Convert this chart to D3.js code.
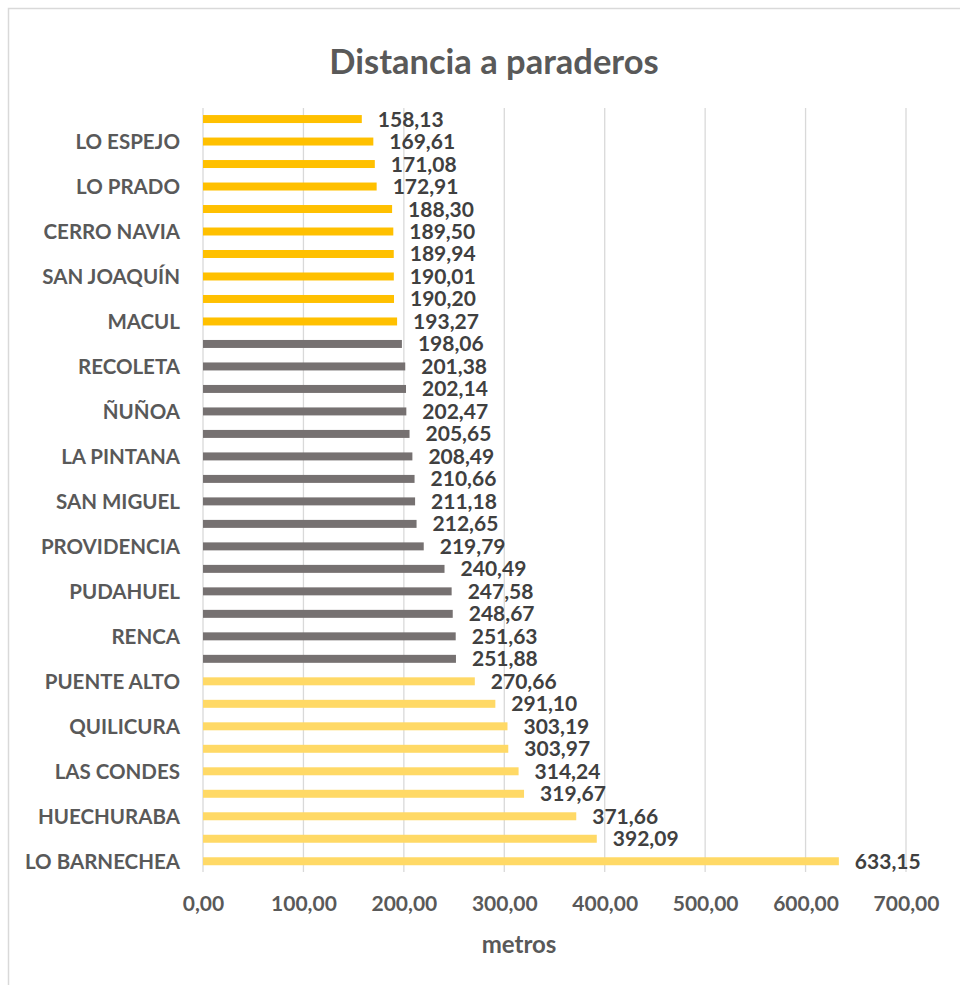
<!DOCTYPE html>
<html>
<head>
<meta charset="utf-8">
<title>Distancia a paraderos</title>
<script src="https://cdn.jsdelivr.net/npm/d3@7"></script>
<style>
  html, body { margin: 0; padding: 0; background: #fff; }
  text { font-family: Lato, "Open Sans", sans-serif; font-weight: 700; }
  .title { font-size: 34.5px; fill: #595959; }
  .cat text { font-size: 20.5px; fill: #595959; }
  .xax text { font-size: 21px; fill: #595959; }
  .val { font-size: 21px; fill: #404040; }
  .axtitle { font-size: 24px; fill: #595959; }
  .grid line { stroke: #d9d9d9; stroke-width: 1.3; }
</style>
</head>
<body>
<svg id="chart" width="960" height="985"></svg>
<script>
// comunas, ordered as in the chart (top to bottom)
var comunas = [
  "SAN RAMÓN", "LO ESPEJO", "LA GRANJA", "LO PRADO", "PEDRO AGUIRRE CERDA",
  "CERRO NAVIA", "EL BOSQUE", "SAN JOAQUÍN", "LA CISTERNA", "MACUL",
  "CONCHALÍ", "RECOLETA", "INDEPENDENCIA", "ÑUÑOA", "QUINTA NORMAL",
  "LA PINTANA", "ESTACIÓN CENTRAL", "SAN MIGUEL", "SANTIAGO", "PROVIDENCIA",
  "LA FLORIDA", "PUDAHUEL", "PEÑALOLÉN", "RENCA", "CERRILLOS",
  "PUENTE ALTO", "MAIPÚ", "QUILICURA", "SAN BERNARDO", "LAS CONDES",
  "LA REINA", "HUECHURABA", "VITACURA", "LO BARNECHEA"
];
var distancias = [
  158.13, 169.61, 171.08, 172.91, 188.30,
  189.50, 189.94, 190.01, 190.20, 193.27,
  198.06, 201.38, 202.14, 202.47, 205.65,
  208.49, 210.66, 211.18, 212.65, 219.79,
  240.49, 247.58, 248.67, 251.63, 251.88,
  270.66, 291.10, 303.19, 303.97, 314.24,
  319.67, 371.66, 392.09, 633.15
];
// group of each bar: 0 = menor distancia, 1 = media, 2 = mayor
var grupos = [
  0,0,0,0,0,0,0,0,0,0,
  1,1,1,1,1,1,1,1,1,1,1,1,1,1,1,
  2,2,2,2,2,2,2,2,2
];
var coloresGrupo = ["#FFC000", "#767171", "#FFD966"];
var xTicks = [0, 100, 200, 300, 400, 500, 600, 700];

var es = d3.formatLocale({decimal: ",", thousands: ".", grouping: [3], currency: ["", " €"]});
var fmt = es.format(".2f");

var svg = d3.select("#chart");

// chart frame (cut off at right and bottom like the source image)
svg.append("rect")
  .attr("x", 8.5).attr("y", 8.5)
  .attr("width", 1200).attr("height", 1200)
  .attr("fill", "none").attr("stroke", "#d9d9d9").attr("stroke-width", 1.5);

var x = d3.scaleLinear().domain([0, 700]).range([203, 906]);
var y = d3.scaleBand().domain(comunas).range([107.8, 872.5]).paddingInner(0.645).paddingOuter(0.3225);

// grid
svg.append("g").attr("class", "grid")
  .selectAll("line").data(xTicks).enter().append("line")
  .attr("x1", d => x(d)).attr("x2", d => x(d))
  .attr("y1", 108).attr("y2", 872);

svg.append("text").attr("class", "title")
  .attr("x", 494).attr("y", 74).attr("text-anchor", "middle")
  .text("Distancia a paraderos");

// bars
svg.append("g").selectAll("rect").data(comunas).enter().append("rect")
  .attr("x", x(0))
  .attr("y", d => y(d))
  .attr("height", y.bandwidth())
  .attr("width", (d, i) => x(distancias[i]) - x(0))
  .attr("fill", (d, i) => coloresGrupo[grupos[i]]);

// value labels
svg.append("g").selectAll("text").data(comunas).enter().append("text")
  .attr("class", "val")
  .attr("x", (d, i) => x(distancias[i]) + 16)
  .attr("y", d => y(d) + y.bandwidth() / 2 + 7.5)
  .text((d, i) => fmt(distancias[i]));

// category axis, only every other label like Excel does
var yAxis = d3.axisLeft(y)
  .tickValues(comunas.filter((d, i) => i % 2 === 1))
  .tickSize(0).tickPadding(0);
var gy = svg.append("g").attr("class", "cat")
  .attr("transform", "translate(180,0)")
  .call(yAxis);
gy.select(".domain").remove();
gy.selectAll("text").attr("dy", null).attr("y", 7.5).attr("fill", "#595959");

// value axis
var xAxis = d3.axisBottom(x).tickValues(xTicks).tickFormat(fmt).tickSize(0).tickPadding(0);
var gx = svg.append("g").attr("class", "xax")
  .attr("transform", "translate(0,911)")
  .call(xAxis);
gx.select(".domain").remove();
gx.selectAll("text").attr("dy", null).attr("y", 0).attr("fill", "#595959");

svg.append("text").attr("class", "axtitle")
  .attr("x", 519).attr("y", 953).attr("text-anchor", "middle")
  .text("metros");
</script>
</body>
</html>
